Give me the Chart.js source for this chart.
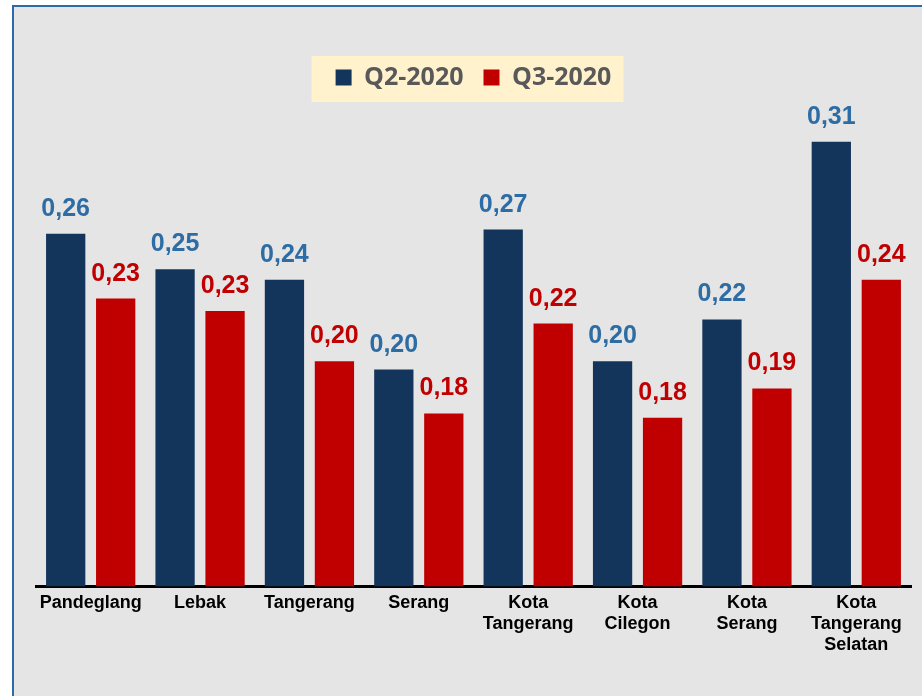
<!DOCTYPE html>
<html>
<head>
<meta charset="utf-8">
<script src="https://cdn.jsdelivr.net/npm/chart.js@4"></script>
<style>
	html, body { margin:0; padding:0; background:#ffffff; }
	#cadre { position:absolute; left:12px; top:5px; width:1000px; height:800px; background:#e5e5e5; border-left:2px solid #2e6aa6; border-top:2px solid #2e6aa6; }
	#graphe { position:absolute; left:0; top:0; }
</style>
</head>
<body>
<div id="cadre"></div>
<canvas id="graphe" width="922" height="696"></canvas>
<script>
// categories (kab/kota)
const wilayah = ["Pandeglang", ["Lebak"], "Tangerang", "Serang", ["Kota", "Tangerang"], ["Kota", "Cilegon"], ["Kota", "Serang"], ["Kota", "Tangerang", "Selatan"]];
// nilai per triwulan
const q2_2020 = [0.264, 0.247, 0.242, 0.199, 0.266, 0.203, 0.223, 0.308];
const q3_2020 = [0.233, 0.227, 0.203, 0.178, 0.221, 0.176, 0.190, 0.242];
const nama_seri = ["Q2-2020", "Q3-2020"];

let couleurBar = ["#14355b", "#c00000"];
let couleurLabel = ["#2e6ca4", "#c00000"];

//----- fond jaune derriere la legende -----
const fondLegende = {
	id: 'fondLegende',
	beforeDraw(chart){
		let boxes = chart.legend.legendHitBoxes;
		if(!boxes || !boxes.length) return;
		let g = Math.min(...boxes.map(b => b.left));
		let d = Math.max(...boxes.map(b => b.left + b.width));
		let h = Math.min(...boxes.map(b => b.top));
		let b2 = Math.max(...boxes.map(b => b.top + b.height));
		let ctx = chart.ctx;
		ctx.save();
		ctx.fillStyle = "#fff2cc";
		ctx.fillRect(g - 24, h - 9, (d - g) + 36, (b2 - h) + 21);
		ctx.restore();
	}
};

//----- etiquettes des valeurs au dessus des barres -----
const etiquettes = {
	id: 'etiquettes',
	afterDatasetsDraw(chart){
		let ctx = chart.ctx;
		ctx.save();
		ctx.font = "bold 25px 'Liberation Sans', Arial, sans-serif";
		ctx.textAlign = "center";
		ctx.textBaseline = "alphabetic";
		chart.data.datasets.forEach(function(ds, i){
			let meta = chart.getDatasetMeta(i);
			ctx.fillStyle = couleurLabel[i];
			meta.data.forEach(function(bar, j){
				let txt = ds.data[j].toFixed(2).replace(".", ",");
				ctx.fillText(txt, bar.x, bar.y - 18);
			});
		});
		ctx.restore();
	}
};

new Chart(document.getElementById("graphe"), {
	type: 'bar',
	data: {
		labels: wilayah,
		datasets: [
			{ label: nama_seri[0], data: q2_2020, backgroundColor: couleurBar[0] },
			{ label: nama_seri[1], data: q3_2020, backgroundColor: couleurBar[1] }
		]
	},
	options: {
		responsive: false,
		animation: false,
		categoryPercentage: 0.914,
		barPercentage: 0.786,
		layout: { padding: { left: 36, right: 11, top: 45, bottom: 42 } },
		plugins: {
			legend: {
				display: true,
				position: 'top',
				labels: {
					boxWidth: 16,
					boxHeight: 16,
					padding: 20,
					color: "#595959",
					font: { family: "'Open Sans', sans-serif", size: 25, weight: 'bold' }
				}
			},
			tooltip: { enabled: false }
		},
		scales: {
			x: {
				grid: { display: false },
				border: { display: true, color: "#000000", width: 3 },
				ticks: {
					color: "#000000",
					autoSkip: false,
					maxRotation: 0,
					padding: -2,
					font: { family: "'Liberation Sans', Arial, sans-serif", size: 18, weight: 'bold', lineHeight: 1.18 }
				}
			},
			y: {
				display: false,
				min: 0.0953,
				max: 0.328
			}
		}
	},
	plugins: [fondLegende, etiquettes]
});
</script>
</body>
</html>
